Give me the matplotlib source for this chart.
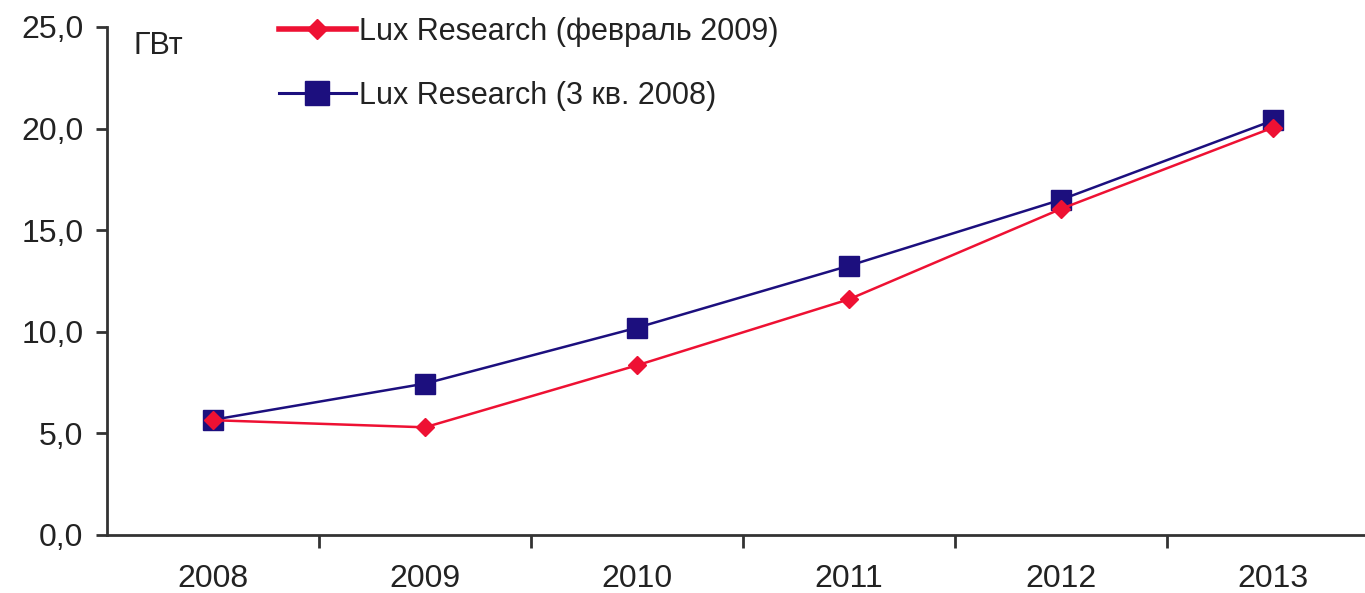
import matplotlib.pyplot as plt
from matplotlib.lines import Line2D

plt.rcParams['font.family'] = ['Liberation Sans', 'DejaVu Sans']

years = ['2008', '2009', '2010', '2011', '2012', '2013']
lux_feb_2009 = [5.65, 5.3, 8.35, 11.6, 16.05, 20.05]
lux_q3_2008 = [5.67, 7.45, 10.2, 13.25, 16.5, 20.4]
yticks = [0, 5, 10, 15, 20, 25]

red = '#EE1133'
navy = '#1C0F7E'
axis_color = '#333333'
text_color = '#222222'

fig = plt.figure(figsize=(13.65, 5.93), dpi=100)
# x axis runs slightly past the right edge of the figure
ax = fig.add_axes([107 / 1365, 58 / 593, 1272 / 1365, 508 / 593])

x = list(range(len(years)))
ax.plot(x, lux_feb_2009, color=red, lw=1.8, marker='D', ms=9,
        mfc=red, mec=red, zorder=3)
ax.plot(x, lux_q3_2008, color=navy, lw=1.8, marker='s', ms=14,
        mfc=navy, mec=navy, zorder=2)

ax.set_xlim(-0.5, len(years) - 0.5)
ax.set_ylim(0, 25)
ax.set_yticks(yticks)
ax.set_yticklabels([f'{v:.1f}'.replace('.', ',') for v in yticks])

# year labels sit between the boundary ticks
ax.set_xticks([i + 0.5 for i in x[:-1]])
ax.set_xticklabels([])
ax.set_xticks(x, minor=True)
ax.set_xticklabels(years, minor=True)
ax.tick_params(axis='x', which='major', length=9, width=2, color=axis_color)
ax.tick_params(axis='x', which='minor', length=0, pad=21,
               labelsize=23, labelcolor=text_color)
ax.tick_params(axis='y', length=8, width=2, color=axis_color, pad=9,
               labelsize=23, labelcolor=text_color)

for side in ('top', 'right'):
    ax.spines[side].set_visible(False)
for side in ('left', 'bottom'):
    ax.spines[side].set_linewidth(2)
    ax.spines[side].set_color(axis_color)

ax.text(0.021, 0.962, 'ГВт', transform=ax.transAxes, fontsize=22,
        color=text_color, va='center', ha='left')

handles = [
    Line2D([], [], color=red, lw=4, marker='D', ms=10, mfc=red, mec=red),
    Line2D([], [], color=navy, lw=2.2, marker='s', ms=17, mfc=navy, mec=navy),
]
labels = ['Lux Research (февраль 2009)', 'Lux Research (3 кв. 2008)']
leg = fig.legend(handles, labels, loc='upper left',
                 bbox_to_anchor=(264 / 1365, 0.997), frameon=False,
                 fontsize=22, handlelength=2.5, handletextpad=0.1,
                 labelspacing=1.1, borderaxespad=0.0, borderpad=0.5)
for t in leg.get_texts():
    t.set_color(text_color)

fig.savefig('out.png', dpi=100, facecolor='white')
